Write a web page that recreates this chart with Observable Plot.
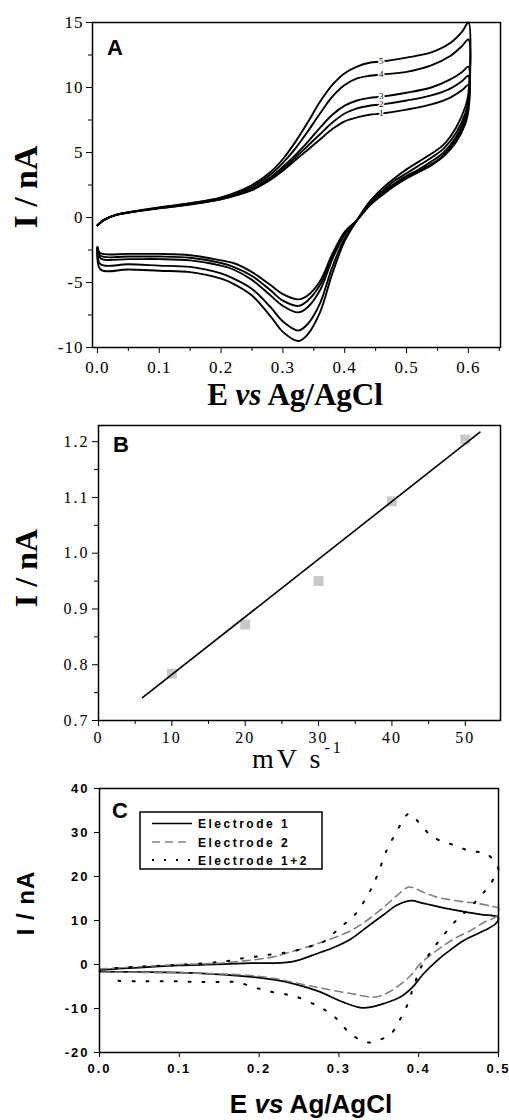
<!DOCTYPE html>
<html><head><meta charset="utf-8">
<script src="https://cdn.jsdelivr.net/npm/d3@7"></script>
<script src="https://cdn.jsdelivr.net/npm/@observablehq/plot@0.6"></script>
<style>
body{margin:0;background:#fff;}
#wrap{position:relative;width:509px;height:1120px;overflow:hidden;background:#fff;}
</style></head><body><div id="wrap"></div>
<script>
// ---------- Panel A: CVs at 5 scan rates ----------
const scanLabels = ["1", "2", "3", "4", "5"];
const aFwdE = [0, 0.01, 0.03, 0.06, 0.1, 0.15, 0.2, 0.25, 0.28, 0.3, 0.32, 0.34, 0.36, 0.38, 0.4, 0.42, 0.44, 0.46, 0.5, 0.54, 0.57, 0.59, 0.6];
const aFwd1 = [-0.6, -0.2, 0.2, 0.45, 0.7, 1.0, 1.4, 2.1, 2.9, 3.6, 4.4, 5.2, 6.0, 6.8, 7.4, 7.7, 7.9, 8.0, 8.3, 8.7, 9.2, 9.8, 10.2];
const aFwd2 = [-0.6, -0.2, 0.2, 0.45, 0.72, 1.02, 1.42, 2.15, 3.0, 3.75, 4.6, 5.5, 6.4, 7.3, 8.0, 8.4, 8.6, 8.7, 9.0, 9.4, 9.9, 10.5, 10.9];
const aFwd3 = [-0.6, -0.2, 0.2, 0.45, 0.74, 1.05, 1.45, 2.2, 3.1, 3.9, 4.8, 5.8, 6.9, 7.9, 8.6, 9.0, 9.2, 9.3, 9.6, 10.0, 10.6, 11.2, 11.6];
const aFwd4 = [-0.6, -0.2, 0.2, 0.47, 0.76, 1.08, 1.5, 2.35, 3.3, 4.2, 5.3, 6.6, 8.0, 9.3, 10.2, 10.7, 10.9, 11.0, 11.2, 11.7, 12.4, 13.2, 13.7];
const aFwd5 = [-0.6, -0.2, 0.2, 0.48, 0.78, 1.1, 1.55, 2.5, 3.5, 4.5, 5.8, 7.3, 8.9, 10.2, 11.1, 11.6, 11.9, 12.0, 12.3, 12.7, 13.4, 14.3, 15.0];
const aRevE = [0.6, 0.595, 0.58, 0.56, 0.54, 0.52, 0.5, 0.48, 0.46, 0.44, 0.42, 0.4, 0.38, 0.36, 0.34, 0.325, 0.3, 0.28, 0.25, 0.22, 0.2, 0.15, 0.1, 0.05, 0.005, 0.0];
const aRev1 = [8.2, 7.2, 5.8, 4.7, 4.0, 3.5, 3.0, 2.4, 1.7, 0.9, -0.2, -1.1, -2.8, -4.9, -6.0, -6.3, -5.9, -5.2, -4.2, -3.5, -3.3, -2.9, -2.8, -2.8, -2.75, -2.3];
const aRev2 = [8.4, 7.4, 6.0, 4.8, 4.1, 3.6, 3.1, 2.5, 1.8, 1.0, -0.2, -1.2, -3.0, -5.2, -6.4, -6.8, -6.4, -5.6, -4.5, -3.8, -3.5, -3.1, -3.0, -3.0, -2.95, -2.3];
const aRev3 = [8.7, 7.7, 6.2, 5.0, 4.3, 3.7, 3.2, 2.6, 1.9, 1.0, -0.2, -1.3, -3.2, -5.6, -6.9, -7.3, -6.8, -6.0, -4.8, -4.0, -3.7, -3.3, -3.2, -3.2, -3.15, -2.3];
const aRev4 = [9.0, 8.0, 6.5, 5.3, 4.6, 4.0, 3.4, 2.8, 2.0, 1.1, -0.2, -1.6, -3.8, -6.6, -8.2, -8.7, -8.0, -6.9, -5.5, -4.7, -4.3, -3.8, -3.7, -3.6, -3.6, -2.3];
const aRev5 = [9.5, 8.5, 6.9, 5.6, 4.9, 4.3, 3.7, 3.0, 2.2, 1.2, -0.2, -1.8, -4.3, -7.3, -9.0, -9.5, -8.8, -7.6, -6.0, -5.1, -4.7, -4.2, -4.1, -4.0, -4.0, -2.3];
const aLabelIndex = 17;
const aXTicks = [0, 0.1, 0.2, 0.3, 0.4, 0.5, 0.6];
const aXMinor = [0.05, 0.15, 0.25, 0.35, 0.45, 0.55, 0.65];
const aYTicks = [-10, -5, 0, 5, 10, 15];
const aYMinor = [-7.5, -2.5, 2.5, 7.5, 12.5];

// ---------- Panel B: peak current vs scan rate ----------
const bRate = [10, 20, 30, 40, 50];
const bCurrent = [0.784, 0.872, 0.950, 1.093, 1.204];
const bFitRate = [6, 52];
const bFitCurrent = [0.741, 1.217];
const bXTicks = [0, 10, 20, 30, 40, 50];
const bXMinor = [5, 15, 25, 35, 45];
const bYTicks = [0.7, 0.8, 0.9, 1.0, 1.1, 1.2];
const bYMinor = [0.75, 0.85, 0.95, 1.05, 1.15];

// ---------- Panel C: electrodes ----------
const c1E = [0, 0.03, 0.07, 0.1, 0.127, 0.155, 0.19, 0.24, 0.273, 0.294, 0.315, 0.335, 0.356, 0.373, 0.39, 0.406, 0.444, 0.477, 0.498, 0.5,
             0.496, 0.482, 0.457, 0.436, 0.423, 0.406, 0.392, 0.377, 0.356, 0.34, 0.327, 0.306, 0.273, 0.235, 0.22, 0.19, 0.127, 0.05, 0];
const c1I = [-1.3, -0.9, -0.5, -0.2, -0.1, 0.1, 0.3, 0.6, 2.5, 3.9, 5.8, 8.5, 11.3, 13.5, 14.5, 13.9, 12.4, 11.4, 10.9, 10.6,
             9.2, 7.7, 5.5, 2.8, 0.9, -2.1, -5.2, -7.4, -8.9, -9.7, -9.8, -8.6, -6.0, -4.0, -3.5, -2.8, -2.0, -1.7, -1.6];
const c2E = [0, 0.05, 0.1, 0.15, 0.19, 0.22, 0.231, 0.273, 0.315, 0.335, 0.356, 0.373, 0.388, 0.406, 0.423, 0.44, 0.459, 0.473, 0.492, 0.5,
             0.498, 0.482, 0.465, 0.448, 0.431, 0.417, 0.402, 0.39, 0.375, 0.358, 0.344, 0.315, 0.273, 0.231, 0.22, 0.19, 0.127, 0.05, 0];
const c2I = [-1.0, -0.5, 0.0, 0.3, 1.0, 1.8, 2.4, 4.7, 7.7, 10.0, 13.0, 15.7, 17.6, 16.4, 15.3, 14.7, 14.2, 13.9, 13.2, 12.8,
             11.0, 9.6, 7.7, 6.2, 4.3, 2.4, 0.2, -2.5, -4.8, -6.7, -7.4, -6.6, -5.2, -3.6, -3.2, -2.5, -2.0, -1.8, -1.7];
const c3E = [0.02, 0.05, 0.1, 0.161, 0.182, 0.2, 0.219, 0.24, 0.26, 0.28, 0.302, 0.319, 0.336, 0.348, 0.36, 0.371, 0.388, 0.401, 0.415, 0.425, 0.443, 0.464, 0.485, 0.496, 0.5,
             0.496, 0.492, 0.487, 0.464, 0.448, 0.434, 0.421, 0.404, 0.394, 0.385, 0.375, 0.365, 0.353, 0.335, 0.315, 0.294, 0.273, 0.244, 0.22, 0.2, 0.17, 0.14, 0.113, 0.085, 0.05, 0.02];
const c3I = [-0.8, -0.5, -0.1, 0.8, 1.5, 1.9, 2.4, 2.9, 3.9, 5.1, 8.5, 11.1, 15.7, 20.2, 26.0, 29.7, 34.3, 32.1, 29.3, 28.3, 27.2, 25.8, 25.2, 23.0, 21.5,
             20.5, 18.9, 17.6, 12.9, 10.2, 7.3, 4.3, -0.2, -4.8, -9.5, -13.0, -15.8, -17.0, -17.7, -15.8, -11.8, -9.4, -7.2, -6.4, -5.5, -4.0, -4.0, -3.9, -3.8, -3.8, -3.7];
const cXTicks = [0, 0.1, 0.2, 0.3, 0.4, 0.5];
const cYTicks = [-20, -10, 0, 10, 20, 30, 40];
const cLegend = ["Electrode 1", "Electrode 2", "Electrode 1+2"];

// ---------- build tables ----------
const aFwd = [aFwd1, aFwd2, aFwd3, aFwd4, aFwd5];
const aRev = [aRev1, aRev2, aRev3, aRev4, aRev5];
const rowsA = [];
scanLabels.forEach((s, k) => {
  aFwdE.forEach((e, i) => rowsA.push({scan: s, E: e, I: aFwd[k][i]}));
  aRevE.forEach((e, i) => rowsA.push({scan: s, E: e, I: aRev[k][i]}));
});
const labelsA = scanLabels.map((s, k) => ({E: aFwdE[aLabelIndex], I: aFwd[k][aLabelIndex], t: s}));
const rowsB = bRate.map((r, i) => ({rate: r, I: bCurrent[i]}));
const fitB = bFitRate.map((r, i) => ({rate: r, I: bFitCurrent[i]}));
const toRows = (E, I) => E.map((e, i) => ({E: e, I: I[i]}));
const rowsC1 = toRows(c1E, c1I), rowsC2 = toRows(c2E, c2I), rowsC3 = toRows(c3E, c3I);

const wrap = document.getElementById("wrap");
const blank = () => "";
function place(svg, top) {
  svg.style.position = "absolute";
  svg.style.left = "0px";
  svg.style.top = top + "px";
  wrap.appendChild(svg);
}

const plotA = Plot.plot({
  width: 509, height: 380, marginTop: 22, marginBottom: 33, marginLeft: 92, marginRight: 9,
  style: "background:transparent;font-family:'Liberation Serif',serif;font-size:17px;letter-spacing:1px;color:#000;",
  x: {domain: [-0.008, 0.652]},
  y: {domain: [-10, 15]},
  marks: [
    Plot.axisX(aXTicks, {tickSize: 6, tickPadding: 7, tickFormat: d3.format(".1f"), label: null}),
    Plot.axisX(aXMinor, {tickSize: 4, tickFormat: blank, label: null}),
    Plot.axisY(aYTicks, {tickSize: 6, tickPadding: 3, tickFormat: d => String(d), label: null}),
    Plot.axisY(aYMinor, {tickSize: 4, tickFormat: blank, label: null}),
    Plot.line(rowsA, {x: "E", y: "I", z: "scan", stroke: "#000", strokeWidth: 1.9, curve: "catmull-rom"}),
    Plot.text(labelsA, {x: "E", y: "I", text: "t", fontSize: 9, fill: "#000", stroke: "#fff", strokeWidth: 3}),
    Plot.frame({stroke: "#000", strokeWidth: 1.5})
  ]
});
place(plotA, 0);

const plotB = Plot.plot({
  width: 509, height: 390, marginTop: 45, marginBottom: 50, marginLeft: 98, marginRight: 9,
  style: "background:transparent;font-family:'Liberation Serif',serif;font-size:16px;letter-spacing:2px;color:#000;",
  x: {domain: [0, 54.8]},
  y: {domain: [0.7, 1.229]},
  marks: [
    Plot.axisX(bXTicks, {tickSize: 6, tickPadding: 5, label: null}),
    Plot.axisX(bXMinor, {tickSize: 4, tickFormat: blank, label: null}),
    Plot.axisY(bYTicks, {tickSize: 6, tickPadding: 3, tickFormat: d3.format(".1f"), label: null}),
    Plot.axisY(bYMinor, {tickSize: 4, tickFormat: blank, label: null}),
    Plot.dot(rowsB, {x: "rate", y: "I", symbol: "square", r: 5.6, fill: "#c9c9c9"}),
    Plot.line(fitB, {x: "rate", y: "I", stroke: "#000", strokeWidth: 1.6}),
    Plot.frame({stroke: "#000", strokeWidth: 1.5})
  ]
});
place(plotB, 380);

const plotC = Plot.plot({
  width: 509, height: 350, marginTop: 18, marginBottom: 68, marginLeft: 99, marginRight: 11,
  style: "background:transparent;font-family:'Liberation Sans',Arial,sans-serif;font-size:13px;font-weight:bold;letter-spacing:2px;color:#000;",
  x: {domain: [0, 0.5]},
  y: {domain: [-20, 40]},
  marks: [
    Plot.axisX(cXTicks, {tickSize: 5, tickPadding: 6, tickFormat: d3.format(".1f"), label: null}),
    Plot.axisY(cYTicks, {tickSize: 5, tickPadding: 5, tickFormat: d => String(d), label: null}),
    Plot.line(rowsC1, {x: "E", y: "I", stroke: "#000", strokeWidth: 1.7, curve: "catmull-rom"}),
    Plot.line(rowsC2, {x: "E", y: "I", stroke: "#808080", strokeWidth: 1.6, strokeDasharray: "8,5", curve: "catmull-rom"}),
    Plot.line(rowsC3, {x: "E", y: "I", stroke: "#000", strokeWidth: 2, strokeDasharray: "2,12", curve: "catmull-rom"}),
    Plot.frame({stroke: "#000", strokeWidth: 1.5})
  ]
});
place(plotC, 770);

// ---------- overlay: titles, panel letters, legend ----------
const ov = d3.create("svg").attr("width", 509).attr("height", 1120)
  .style("position", "absolute").style("left", "0px").style("top", "0px").style("pointer-events", "none");
const serif = "'Liberation Serif', 'Times New Roman', serif";
const sans = "'Liberation Sans', Arial, sans-serif";
function txt(x, y, parts, o) {
  const t = ov.append("text").attr("x", x).attr("y", y)
    .attr("font-family", o.family).attr("font-size", o.size).attr("font-weight", o.weight || "normal")
    .attr("text-anchor", o.anchor || "middle").attr("fill", "#000");
  if (o.ls) t.attr("letter-spacing", o.ls);
  if (o.rot) t.attr("x", 0).attr("y", 0).attr("transform", `translate(${x},${y}) rotate(-90)`);
  parts.forEach(p => {
    const s = t.append("tspan").text(p.t);
    if (p.italic) s.attr("font-style", "italic");
    if (p.size) s.attr("font-size", p.size);
    if (p.dy) s.attr("dy", p.dy);
    if (p.dx) s.attr("dx", p.dx);
  });
  return t;
}
// Panel A
txt(37, 187, [{t: "I / nA"}], {family: serif, size: 34, weight: "bold", rot: true});
txt(295, 405, [{t: "E "}, {t: "vs", italic: true}, {t: " Ag/AgCl"}], {family: serif, size: 31, weight: "bold"});
txt(107, 55, [{t: "A"}], {family: sans, size: 22, weight: "bold", anchor: "start"});
// Panel B
txt(37, 568, [{t: "I / nA"}], {family: serif, size: 32, weight: "bold", rot: true});
txt(252, 768, [{t: "mV s"}, {t: "-1", size: 16, dy: -15, dx: 1}], {family: serif, size: 28, anchor: "start", ls: 3});
txt(113, 452, [{t: "B"}], {family: sans, size: 22, weight: "bold", anchor: "start"});
// Panel C
txt(34, 903, [{t: "I / nA"}], {family: sans, size: 24, weight: "bold", rot: true, ls: 1});
txt(311, 1113, [{t: "E "}, {t: "vs", italic: true}, {t: " Ag/AgCl"}], {family: sans, size: 26, weight: "bold"});
txt(112, 818, [{t: "C"}], {family: sans, size: 22, weight: "bold", anchor: "start"});
// Legend
ov.append("rect").attr("x", 140).attr("y", 812).attr("width", 182).attr("height", 57)
  .attr("fill", "#fff").attr("stroke", "#000").attr("stroke-width", 1.5);
const legStyles = [
  {stroke: "#000", w: 1.7, dash: null},
  {stroke: "#808080", w: 1.6, dash: "8,5"},
  {stroke: "#000", w: 2, dash: "2,10"}
];
cLegend.forEach((name, i) => {
  const cy = [823.5, 842, 860][i];
  const l = ov.append("line").attr("x1", 152).attr("x2", i === 1 ? 187 : 192).attr("y1", cy).attr("y2", cy)
    .attr("stroke", legStyles[i].stroke).attr("stroke-width", legStyles[i].w);
  if (legStyles[i].dash) l.attr("stroke-dasharray", legStyles[i].dash);
  txt(198, cy + 4.5, [{t: name}], {family: sans, size: 12, weight: "bold", anchor: "start", ls: 2.5});
});
wrap.appendChild(ov.node());
</script></body></html>
